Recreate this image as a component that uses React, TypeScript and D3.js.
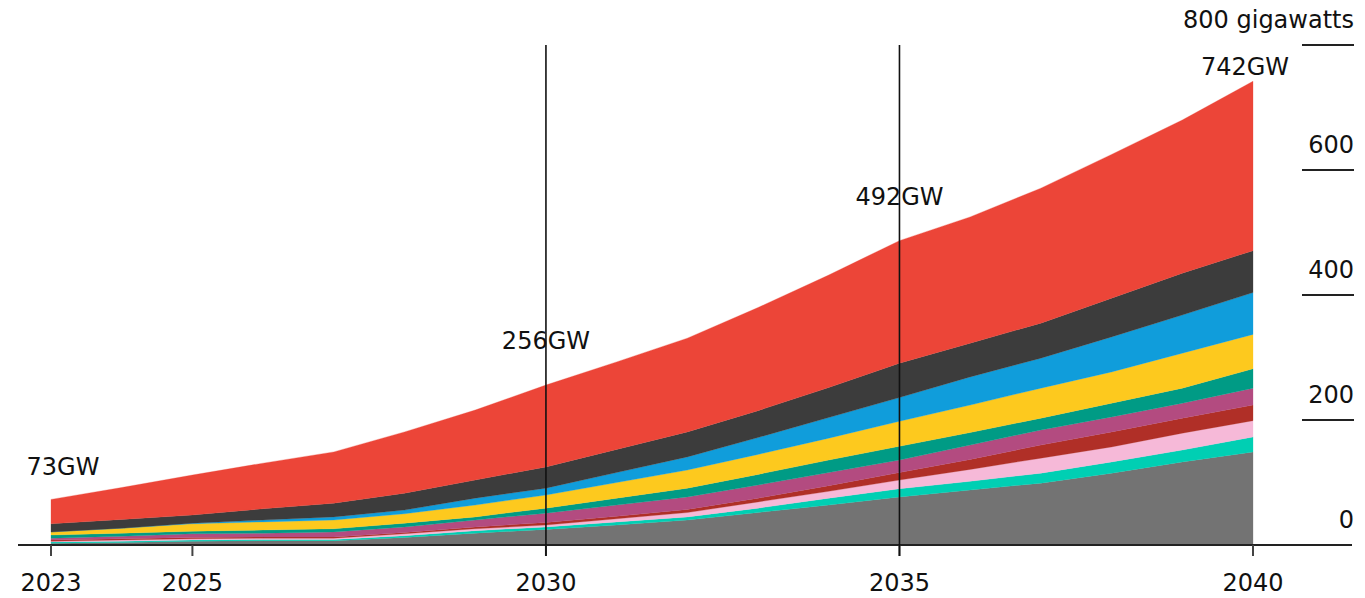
import { useMemo } from "react";
import * as d3 from "d3";

const years = [2023, 2024, 2025, 2026, 2027, 2028, 2029, 2030, 2031, 2032, 2033, 2034, 2035, 2036, 2037, 2038, 2039, 2040];

// gigawatts per layer, bottom to top
const grayGW = [3, 4, 6, 7, 7, 12, 19, 25, 32, 40, 52, 64, 77, 88, 99, 115, 133, 149];
const tealGW = [2, 2, 2, 2, 2, 3, 4, 4, 5, 5, 7, 11, 13, 14, 16, 18, 19, 24];
const pinkGW = [1, 2, 2, 2, 2, 3, 3, 3, 5, 7, 10, 11, 14, 19, 24, 24, 27, 26];
const darkRedGW = [2, 2, 2, 2, 2, 2, 3, 4, 4, 5, 6, 9, 12, 16, 21, 24, 24, 25];
const magentaGW = [3, 4, 6, 6, 8, 9, 11, 15, 18, 20, 21, 21, 20, 23, 24, 24, 24, 27];
const greenGW = [5, 5, 4, 5, 5, 6, 5, 8, 11, 14, 17, 20, 22, 20, 19, 22, 24, 31];
const yellowGW = [5, 8, 12, 13, 14, 15, 19, 21, 25, 29, 32, 35, 40, 44, 48, 50, 56, 55];
const blueGW = [0, 0, 1, 3, 5, 6, 11, 11, 16, 21, 27, 33, 38, 45, 48, 56, 61, 67];
const darkGrayGW = [13, 14, 13, 18, 22, 27, 29, 34, 37, 40, 43, 48, 55, 54, 56, 62, 67, 67];
const redGW = [39, 51, 64, 73, 82, 98, 112, 131, 140, 150, 165, 180, 196, 202, 216, 230, 245, 271];

const layers = [
  { key: "gray", values: grayGW, color: "#737373" },
  { key: "teal", values: tealGW, color: "#00cfb3" },
  { key: "pink", values: pinkGW, color: "#f6b9d8" },
  { key: "darkred", values: darkRedGW, color: "#b02f27" },
  { key: "magenta", values: magentaGW, color: "#b34b80" },
  { key: "green", values: greenGW, color: "#009b85" },
  { key: "yellow", values: yellowGW, color: "#fdc91e" },
  { key: "blue", values: blueGW, color: "#109ddb" },
  { key: "darkgray", values: darkGrayGW, color: "#3c3c3c" },
  { key: "red", values: redGW, color: "#ec4538" },
];

const xTicks = [2023, 2025, 2030, 2035, 2040];
const yTicks = [0, 200, 400, 600, 800];
const markerYears = [2030, 2035];
const callouts = [
  { year: 2023, label: "73GW", dx: 12, dy: 24 },
  { year: 2030, label: "256GW", dx: 0, dy: 36 },
  { year: 2035, label: "492GW", dx: 0, dy: 36 },
  { year: 2040, label: "742GW", dx: -8, dy: 6 },
];

const W = 1365;
const H = 598;
const FONT = "'DejaVu Sans', sans-serif";

export default function App() {
  const x = d3.scaleLinear().domain([2023, 2040]).range([51, 1253]);
  const y = d3.scaleLinear().domain([0, 800]).range([545, 45]);

  const series = useMemo(() => {
    const rows = years.map((yr, i) => {
      const row: Record<string, number> = { year: yr };
      layers.forEach((l) => (row[l.key] = l.values[i]));
      return row;
    });
    return d3.stack<Record<string, number>>().keys(layers.map((l) => l.key))(rows);
  }, []);

  const area = d3
    .area<d3.SeriesPoint<Record<string, number>>>()
    .x((d) => x(d.data.year))
    .y0((d) => y(d[0]))
    .y1((d) => y(d[1]));

  const totals = years.map((_, i) => d3.sum(layers, (l) => l.values[i]));

  return (
    <svg width={W} height={H} style={{ position: "absolute", left: 0, top: 0, background: "#fff" }} fontFamily={FONT}>
      {series.map((s, i) => (
        <path key={s.key} d={area(s) || ""} fill={layers[i].color} stroke={layers[i].color} strokeWidth={0.3} />
      ))}

      {/* x axis */}
      <line x1={18} x2={1352} y1={y(0)} y2={y(0)} stroke="#222" strokeWidth={2} />
      {xTicks.map((t) => (
        <g key={t}>
          <line x1={x(t)} x2={x(t)} y1={y(0)} y2={y(0) + 11} stroke="#444" strokeWidth={2} />
          <text x={x(t)} y={591} textAnchor="middle" fontSize={24} fill="#111">
            {t}
          </text>
        </g>
      ))}

      {/* marker lines */}
      {markerYears.map((t) => (
        <line key={t} x1={x(t)} x2={x(t)} y1={y(800)} y2={y(0) + 11} stroke="#111" strokeWidth={1.6} />
      ))}

      {/* y axis on the right */}
      {yTicks.map((t) => (
        <g key={t}>
          {t > 0 && <line x1={1302} x2={1354} y1={y(t)} y2={y(t)} stroke="#222" strokeWidth={2} />}
          <text x={1354} y={y(t) - 17} textAnchor="end" fontSize={24} fill="#111">
            {t === 800 ? "800 gigawatts" : t}
          </text>
        </g>
      ))}

      {/* totals */}
      {callouts.map((c) => {
        const i = years.indexOf(c.year);
        return (
          <text key={c.label} x={x(c.year) + c.dx} y={y(totals[i]) - c.dy} textAnchor="middle" fontSize={24} fill="#111">
            {c.label}
          </text>
        );
      })}
    </svg>
  );
}
